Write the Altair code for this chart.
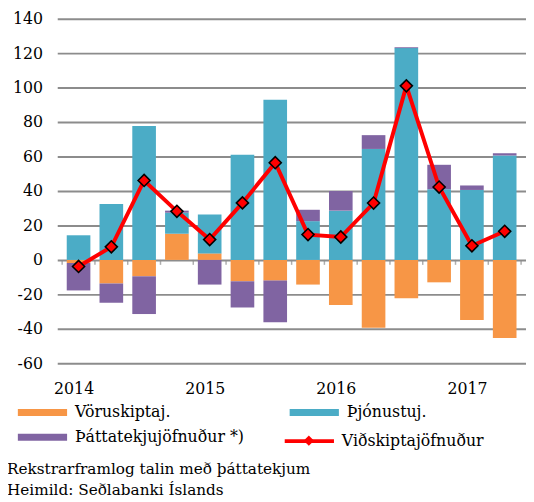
import json
import altair as alt
import pandas as pd

quarters = ["2014Q1", "2014Q2", "2014Q3", "2014Q4", "2015Q1", "2015Q2", "2015Q3",
            "2015Q4", "2016Q1", "2016Q2", "2016Q3", "2016Q4", "2017Q1", "2017Q2"]
goods = [-1.8, -13.7, -9.5, 15.2, 3.8, -12.4, -12.0, -14.3, -26.1, -39.4, -22.3, -13.0, -34.9, -45.3]
services = [14.3, 32.4, 77.7, 12.2, 22.5, 61.0, 93.0, 22.5, 28.6, 64.4, 122.9, 41.0, 40.6, 60.6]
income = [-15.9, -11.1, -21.9, 1.2, -14.3, -15.2, -24.2, 6.6, 11.4, 8.0, 0.5, 14.2, 2.6, 1.3]
current = [-3.8, 7.6, 46.1, 28.2, 11.8, 33.1, 56.4, 14.7, 13.3, 33.0, 101.0, 42.3, 8.2, 16.6]
years = ["2014", "2015", "2016", "2017"]
bar_names = ["Vöruskiptaj.", "Þjónustuj.", "Þáttatekjujöfnuður *)"]
bar_colors = ["#F79646", "#4BACC6", "#8064A2"]
line_name = "Viðskiptajöfnuður"
footnote = ["Rekstrarframlog talin með þáttatekjum", "Heimild: Seðlabanki Íslands"]

FONT = "DejaVu Serif"
GRID = "#8c8c8c"
SWATCH = "M-2.5,-0.35H2.5V0.35H-2.5Z"
STROKE = "M-2.5,0H2.5"

rows = []
for i, q in enumerate(quarters):
    for k, vals in enumerate([goods, services, income]):
        rows.append({"idx": i, "quarter": q, "series": bar_names[k], "order": k, "value": vals[i]})
bars_df = pd.DataFrame(rows)
line_df = pd.DataFrame({"idx": list(range(len(quarters))), "quarter": quarters,
                        "line": line_name, "mk": "marker", "value": current})
tick_df = pd.DataFrame({"b": [i - 0.5 for i in range(len(quarters) + 1)]})

xscale = alt.Scale(domain=[-0.5, len(quarters) - 0.5], nice=False, zero=False)
yscale = alt.Scale(domain=[-60, 140], nice=False)

xaxis = alt.Axis(values=[0, 4, 8, 12], labelExpr=f"{json.dumps(years)}[round(datum.value/4)]",
                 grid=False, ticks=False, domain=False, title=None, labelFont=FONT,
                 labelFontSize=16, labelColor="#000000", labelPadding=18, labelOffset=-5)
yaxis = alt.Axis(values=list(range(-60, 141, 20)), labelExpr="'' + datum.value",
                 grid=True, gridColor=GRID, gridWidth=2,
                 ticks=False, domain=False, title=None, labelFont=FONT, labelFontSize=16,
                 labelColor="#000000", labelPadding=15, labelOverlap=False)

X = alt.X("idx:Q", scale=xscale, axis=xaxis)

bars = alt.Chart(bars_df).mark_bar(size=24).encode(
    x=X,
    y=alt.Y("value:Q", stack="zero", scale=yscale, axis=yaxis),
    color=alt.Color("series:N", scale=alt.Scale(domain=bar_names, range=bar_colors),
                    legend=alt.Legend(orient="none", legendX=-25, legendY=390, columns=2,
                                      direction="horizontal", title=None,
                                      symbolType=SWATCH, symbolSize=400,
                                      symbolStrokeWidth=0, symbolOpacity=1,
                                      labelFont=FONT, labelFontSize=16, labelColor="#000000",
                                      labelOffset=23, columnPadding=46, rowPadding=7,
                                      labelLimit=400)),
    order=alt.Order("order:Q"),
)

ticks = alt.Chart(tick_df).mark_tick(orient="vertical", size=5, thickness=1.5, color=GRID,
                                     yOffset=2.5).encode(
    x=alt.X("b:Q", scale=xscale, axis=xaxis),
    y=alt.datum(0, scale=yscale, axis=yaxis),
)

line = alt.Chart(line_df).mark_line(strokeWidth=4).encode(
    x=X,
    y=alt.Y("value:Q", scale=yscale, axis=yaxis),
    stroke=alt.Stroke("line:N", scale=alt.Scale(domain=[line_name], range=["#FF0000"]),
                      legend=alt.Legend(orient="none", legendX=244, legendY=417, title=None,
                                        symbolType=STROKE, symbolSize=400,
                                        symbolStrokeWidth=4, labelFont=FONT, labelFontSize=16,
                                        labelColor="#000000", labelOffset=21, labelLimit=400)),
)

points = alt.Chart(line_df).mark_point(filled=True, fill="#FF0000", stroke="#000000",
                                       strokeWidth=1.6, size=150, opacity=1).encode(
    x=X,
    y=alt.Y("value:Q", scale=yscale, axis=yaxis),
    shape=alt.Shape("mk:N", scale=alt.Scale(domain=["marker"], range=["diamond"]),
                    legend=alt.Legend(orient="none", legendX=249, legendY=422, title=None,
                                      symbolFillColor="#FF0000", symbolStrokeColor="#000000",
                                      symbolStrokeWidth=1.6, symbolSize=110, labelExpr="''")),
)

chart = alt.layer(bars, ticks, line, points).resolve_scale(
    color="independent", shape="independent", stroke="independent"
).properties(
    width=476,
    height=350,
    autosize=alt.AutoSizeParams(type="none"),
    padding={"left": 50, "top": 7, "right": 0, "bottom": 137},
    title=alt.TitleParams(text=footnote, orient="bottom", anchor="start", frame="group",
                          font=FONT, fontSize=15.5, fontWeight="normal", color="#000000",
                          lineHeight=22, dx=-51, offset=13),
).configure_view(stroke=None).configure_axis(labelOverlap=False)

chart.save("out.html", embed_options={"renderer": "svg", "actions": False})
